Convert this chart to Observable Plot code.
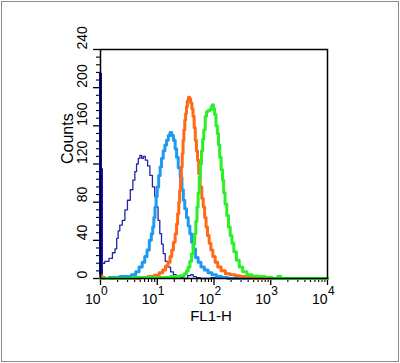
<!DOCTYPE html>
<html>
<head>
<meta charset="utf-8">
<script src="https://cdn.jsdelivr.net/npm/d3@7"></script>
<script src="https://cdn.jsdelivr.net/npm/@observablehq/plot@0.6"></script>
<style>
  html, body { margin: 0; padding: 0; background: #fff; }
  #wrap { position: relative; width: 400px; height: 363px; overflow: hidden; }
  #border { position: absolute; left: 1px; top: 1px; width: 396px; height: 359px; border: 1px solid #8c8c8c; }
  #chart { position: absolute; left: 0; top: 0; }
</style>
</head>
<body>
<div id="wrap"><div id="chart"></div><div id="border"></div></div>
<script>
// ---- data (FL1-H value, counts) ----
const spikeX = [1.0, 1.04];
const spikeY = [215, 115];

const navyX = [1.07, 1.32, 1.51, 1.74, 1.86, 2.0, 2.09, 2.29, 2.57, 2.82, 3.16, 3.55, 3.89, 4.17, 4.47, 4.79, 5.13, 5.5, 5.89, 6.46, 7.08, 7.76, 8.71, 9.33, 10.0, 10.7, 11.5, 12.3, 13.2, 14.5, 16.2, 18.2, 20.4, 22.9, 26.9, 31.6, 37.2, 40.7, 45.7, 52.5, 63, 126, 10000];
const navyY = [16, 18, 21, 27, 31, 42, 50, 56, 61, 72, 82, 93, 103, 112, 120, 126, 129, 126, 128, 124, 118, 108, 96, 86, 75, 61, 47, 36, 26, 18, 12, 7, 4, 3, 1, 0, 3, 4, 2, 1, 0, 1, 0];

const blueX = [1, 2.0, 2.4, 3.16, 3.89, 4.47, 5.13, 5.75, 6.31, 6.92, 7.59, 8.13, 8.51, 8.91, 9.33, 9.77, 10.2, 11.0, 11.5, 12.3, 13.2, 14.1, 15.1, 16.2, 17.4, 18.6, 20.0, 21.4, 22.4, 24.5, 26.3, 28.2, 29.5, 31.6, 33.9, 36.3, 38.9, 41.7, 44.7, 50.1, 55.0, 63.1, 72.4, 85.1, 100, 123, 151, 200, 10000];
const blueY = [0, 1, 2, 2, 4, 7, 12, 17, 23, 30, 40, 47, 54, 64, 75, 86, 96, 108, 117, 126, 134, 140, 145, 150, 153, 150, 145, 136, 127, 116, 106, 93, 82, 73, 64, 55, 47, 38, 31, 22, 17, 12, 9, 6, 4, 2, 1, 0, 0];

const orangeX = [1, 1.12, 1.26, 3.98, 5.89, 7.94, 10.0, 11.7, 13.2, 14.8, 16.2, 17.4, 18.6, 20.0, 21.4, 22.4, 23.4, 24.5, 25.1, 26.3, 26.9, 28.2, 28.8, 30.2, 30.9, 32.4, 33.1, 34.7, 36.3, 38.0, 39.8, 41.7, 43.7, 45.7, 47.9, 50.1, 52.5, 55.0, 58.9, 63.1, 66.1, 70.8, 74.1, 79.4, 85.1, 91.2, 100, 110, 123, 145, 174, 214, 263, 316, 389, 501, 10000];
const orangeY = [3, 1, 0, 0, 1, 2, 3.5, 6, 9, 13, 17, 23, 30, 38, 47, 57, 68, 80, 92, 104, 117, 131, 145, 156, 166, 173, 180, 186, 190, 188, 184, 178, 170, 158, 145, 134, 124, 110, 96, 84, 75, 64, 54, 45, 37, 30, 23, 17, 12, 8, 5, 4, 3, 2, 1, 0, 0];

const greenX = [1, 13.2, 22.4, 28.2, 31.6, 33.9, 36.3, 38.9, 41.7, 44.2, 46.8, 49.0, 51.3, 53.7, 56.2, 58.9, 61.7, 64.6, 67.6, 72.4, 75.9, 81.3, 87.1, 91.2, 95.5, 100, 105, 112, 117, 123, 129, 138, 145, 151, 162, 174, 186, 200, 214, 234, 263, 295, 347, 417, 513, 708, 891, 1259, 1413, 1585, 10000];
const greenY = [0, 1, 2, 3, 5, 8, 12, 18, 26, 36, 47, 60, 75, 90, 106, 120, 134, 146, 156, 170, 175, 176, 177, 180, 182, 178, 172, 160, 152, 140, 127, 114, 103, 90, 78, 66, 54, 45, 37, 28, 19, 12, 7, 4, 2.5, 2, 1, 0, 2, 0, 0];

const xMajor = [1, 10, 100, 1000, 10000];
const xExp = ["0", "1", "2", "3", "4"];
const xMinor = [2,3,4,5,6,7,8,9, 20,30,40,50,60,70,80,90, 200,300,400,500,600,700,800,900, 2000,3000,4000,5000,6000,7000,8000,9000];
const yMajor = [0, 40, 80, 120, 160, 200, 240];
const yMinor = [8,16,24,32, 48,56,64,72, 88,96,104,112, 128,136,144,152, 168,176,184,192, 208,216,224,232];

const xLabel = "FL1-H";
const yLabel = "Counts";

const pts = (X, Y) => X.map((x, i) => ({x, y: Y[i]}));
const narrow = "'Liberation Sans Narrow', 'Arial Narrow', 'Liberation Sans', Arial, sans-serif";

const chart = Plot.plot({
  width: 400,
  height: 363,
  marginLeft: 100,
  marginRight: 73,
  marginTop: 49,
  marginBottom: 85,
  style: {fontFamily: "'Liberation Sans', Arial, sans-serif", background: "transparent", color: "black"},
  x: {type: "log", domain: [1, 10000]},
  y: {domain: [0, 240]},
  marks: [
    Plot.axisX({ticks: xMajor, tickSize: 7, strokeWidth: 1.3, tickFormat: () => "", label: null}),
    Plot.axisX({ticks: xMinor, tickSize: 4, strokeWidth: 1.1, tickFormat: () => "", label: null}),
    Plot.axisY({ticks: yMajor, tickSize: 7, strokeWidth: 1.3, tickFormat: () => "", label: null}),
    Plot.axisY({ticks: yMinor, tickSize: 4, strokeWidth: 1.1, tickFormat: () => "", label: null}),
    Plot.text(xMajor, {x: d => d, frameAnchor: "bottom", text: () => "10", textAnchor: "end", lineAnchor: "top", dy: 16, fontSize: 14, fontFamily: narrow, fill: "black"}),
    Plot.text(xMajor, {x: d => d, frameAnchor: "bottom", text: (d, i) => xExp[i], textAnchor: "start", lineAnchor: "top", dy: 8, dx: 0.5, fontSize: 12, fontFamily: narrow, fill: "black"}),
    Plot.text(yMajor, {y: d => d, frameAnchor: "left", text: d => String(d), rotate: -90, dx: -18, fontSize: 14, fontFamily: narrow, fill: "black"}),
    Plot.text([yLabel], {frameAnchor: "left", text: d => d, rotate: -90, dx: -33, fontSize: 16, fill: "black"}),
    Plot.text([xLabel], {frameAnchor: "bottom", text: d => d, dy: 42, dx: -3, fontSize: 15, fill: "black"}),
    Plot.ruleX(pts(spikeX, spikeY), {x: "x", y1: 0, y2: "y", stroke: "#0a0acc", strokeWidth: 3}),
    Plot.line(pts(navyX, navyY), {x: "x", y: "y", curve: "step", stroke: "#2424a8", strokeWidth: 1.3}),
    Plot.line(pts(blueX, blueY), {x: "x", y: "y", curve: "step", stroke: "#1e9af0", strokeWidth: 3}),
    Plot.line(pts(orangeX, orangeY), {x: "x", y: "y", curve: "step", stroke: "#ff6a18", strokeWidth: 3}),
    Plot.line(pts(greenX, greenY), {x: "x", y: "y", curve: "step", stroke: "#2af02a", strokeWidth: 3}),
    Plot.frame({stroke: "black", strokeWidth: 1.5})
  ]
});
document.getElementById("chart").appendChild(chart);
</script>
</body>
</html>
